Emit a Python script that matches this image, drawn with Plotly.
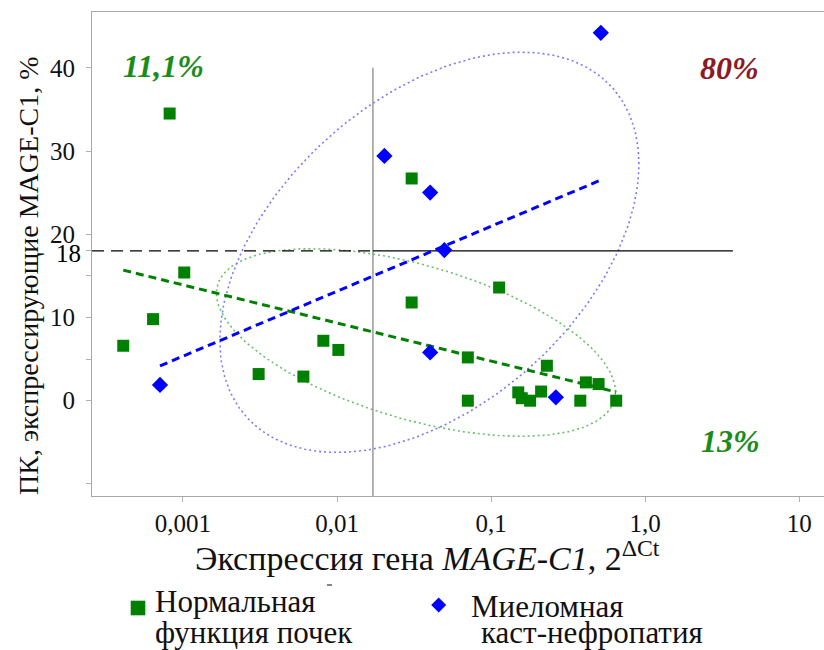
import numpy as np
import plotly.graph_objects as go

# ПК, экспрессирующие MAGE-C1 (%), против экспрессии гена MAGE-C1 (2^ΔCt)
# Нормальная функция почек
normal_expr = [0.00082, 0.00102, 0.00064, 0.00041, 0.0031, 0.00605, 0.00815, 0.0102,
               0.0305, 0.1127, 0.0305, 0.0706, 0.230, 0.412, 0.498, 0.0706,
               0.150, 0.158, 0.179, 0.211, 0.379, 0.648]
normal_pc = [34.5, 15.4, 9.8, 6.6, 3.2, 2.9, 7.2, 6.1,
             26.7, 13.6, 11.8, 5.2, 4.2, 2.2, 2.0, 0.0,
             1.0, 0.3, 0.0, 1.1, 0.0, 0.0]

# Миеломная каст-нефропатия
myeloma_expr = [0.00071, 0.515, 0.0203, 0.0402, 0.0497, 0.0402, 0.263]
myeloma_pc = [1.9, 44.2, 29.4, 25.0, 18.1, 5.8, 0.4]

# пороговые значения
expr_cutoff = 0.0171
pc_cutoff = 18
vline_top = 40
hline_end = 3.7

x_ticks = [0.001, 0.01, 0.1, 1, 10]
x_ticktext = ["0,001", "0,01", "0,1", "1,0", "10"]
y_ticks = [-10, 0, 5, 10, 15, 18, 20, 30, 40]
y_ticktext = ["", "0", "", "10", "", "", "20", "30", "40"]

share_labels = ["11,1%", "80%", "13%"]
legend_normal = ["Нормальная", "функция почек"]
legend_myeloma = ["Миеломная", "каст-нефропатия"]

X_RANGE = [-3.59, 1.16]     # log10
Y_RANGE = [-11.45, 46.7]

GREEN = "#008000"
BLUE = "#0000ff"
INK = "#111111"
SERIF = "Liberation Serif, Times New Roman, serif"

# plot area in pixels
W, H = 824, 650
ML, MR, MT, MB = 92, 0, 12, 154
PW, PH = W - ML - MR, H - MT - MB


def px_to_paper(px, py):
    return (px - ML) / PW, (H - MB - py) / PH


def trend(expr, pc):
    lx = np.log10(expr)
    b, a = np.polyfit(lx, pc, 1)
    xs = np.array([lx.min(), lx.max()])
    return 10 ** xs, a + b * xs


def prediction_ellipse(expr, pc, p=0.5, npts=240):
    pts = np.column_stack([np.log10(expr), np.asarray(pc, float)])
    n = len(pts)
    c = pts.mean(axis=0)
    S = np.cov(pts, rowvar=False)
    m = n - 2
    fq = (m / 2) * ((1 - p) ** (-2 / m) - 1)          # F(2, n-2) quantile
    k = 2 * (n + 1) * (n - 1) / (n * (n - 2)) * fq
    L = np.linalg.cholesky(S)
    t = np.linspace(0, 2 * np.pi, npts)
    e = c[:, None] + np.sqrt(k) * L @ np.vstack([np.cos(t), np.sin(t)])
    return 10 ** e[0], e[1]


fig = go.Figure()

# эллипсы
ex, ey = prediction_ellipse(normal_expr, normal_pc)
fig.add_trace(go.Scatter(x=ex, y=ey, mode="lines", hoverinfo="skip",
                         line=dict(color="#6cbf6c", width=1.6, dash="2px,3px")))
ex, ey = prediction_ellipse(myeloma_expr, myeloma_pc)
fig.add_trace(go.Scatter(x=ex, y=ey, mode="lines", hoverinfo="skip",
                         line=dict(color="#7b7bf5", width=1.6, dash="2px,3px")))

# пороговые линии
x_left = 10 ** X_RANGE[0]
fig.add_trace(go.Scatter(x=[expr_cutoff, expr_cutoff], y=[Y_RANGE[0], vline_top], mode="lines",
                         hoverinfo="skip", line=dict(color="#808080", width=1.2)))
fig.add_trace(go.Scatter(x=[x_left, expr_cutoff], y=[pc_cutoff, pc_cutoff], mode="lines",
                         hoverinfo="skip", line=dict(color="#000000", width=1.4, dash="12px,7px")))
fig.add_trace(go.Scatter(x=[expr_cutoff, hline_end], y=[pc_cutoff, pc_cutoff], mode="lines",
                         hoverinfo="skip", line=dict(color="#000000", width=1.4)))

# линии тренда
tx, ty = trend(normal_expr, normal_pc)
fig.add_trace(go.Scatter(x=tx, y=ty, mode="lines", hoverinfo="skip",
                         line=dict(color=GREEN, width=3, dash="8px,5px")))
tx, ty = trend(myeloma_expr, myeloma_pc)
fig.add_trace(go.Scatter(x=tx, y=ty, mode="lines", hoverinfo="skip",
                         line=dict(color=BLUE, width=3, dash="8px,5px")))

# точки
fig.add_trace(go.Scatter(x=normal_expr, y=normal_pc, mode="markers",
                         name=" ".join(legend_normal),
                         marker=dict(symbol="square", size=12, color=GREEN)))
fig.add_trace(go.Scatter(x=myeloma_expr, y=myeloma_pc, mode="markers",
                         name=" ".join(legend_myeloma),
                         marker=dict(symbol="diamond", size=12.5, color=BLUE)))

annotations = []


def add_text(text, px, py, size, color=INK, xanchor="center", angle=0, yshift=0):
    ax_, ay_ = px_to_paper(px, py)
    annotations.append(dict(x=ax_, y=ay_, xref="paper", yref="paper", showarrow=False,
                            text=text, textangle=angle, xanchor=xanchor, yanchor="middle",
                            yshift=yshift, font=dict(family=SERIF, size=size, color=color)))


# подписи осей
add_text("ПК, экспрессирующие MAGE-C1, %", 28, 276, 28, angle=-90)
add_text("Экспрессия гена <i>MAGE-C1</i>, 2<sup>ΔCt</sup>", 427, 556, 34)

# подпись порога по оси Y
annotations.append(dict(x=0, y=pc_cutoff, xref="paper", yref="y", showarrow=False,
                        text=str(pc_cutoff), xanchor="right", yanchor="middle",
                        xshift=-9, yshift=-3,
                        font=dict(family=SERIF, size=25, color="#000000")))

# доли в квадрантах
for label, (px, py), col in zip(share_labels,
                                [(163, 66), (729, 68), (730, 441)],
                                ["#1a8c1a", "#8b1a22", "#1a8c1a"]):
    add_text(f"<b><i>{label}</i></b>", px, py, 32, color=col)

# легенда
add_text(legend_normal[0], 153, 601, 31, xanchor="left")
add_text(legend_normal[1], 153, 632, 31, xanchor="left")
add_text(legend_myeloma[0], 469, 606, 31, xanchor="left")
add_text(legend_myeloma[1], 479, 632, 31, xanchor="left")

shapes = []
x0, y0 = px_to_paper(130.7, 615.3)
x1, y1 = px_to_paper(145.3, 600.7)
shapes.append(dict(type="rect", xref="paper", yref="paper", x0=x0, y0=y0, x1=x1, y1=y1,
                   fillcolor=GREEN, line=dict(width=0)))
cx, cy, r = 438.7, 605, 7.5
pts = [px_to_paper(cx, cy - r), px_to_paper(cx + r, cy), px_to_paper(cx, cy + r), px_to_paper(cx - r, cy)]
path = "M " + " L ".join(f"{a:.5f},{b:.5f}" for a, b in pts) + " Z"
shapes.append(dict(type="path", xref="paper", yref="paper", path=path,
                   fillcolor=BLUE, line=dict(width=0)))
# мелкий штрих над подписью легенды
sx0, sy = px_to_paper(327, 585)
sx1, _ = px_to_paper(332, 585)
shapes.append(dict(type="line", xref="paper", yref="paper", x0=sx0, y0=sy, x1=sx1, y1=sy,
                   line=dict(color="#333333", width=1.2)))

fig.update_layout(
    width=W, height=H,
    margin=dict(l=ML, r=MR, t=MT, b=MB, autoexpand=False),
    paper_bgcolor="white", plot_bgcolor="white",
    showlegend=False,
    annotations=annotations,
    shapes=shapes,
    xaxis=dict(type="log", range=X_RANGE, tickvals=x_ticks, ticktext=x_ticktext,
               showgrid=False, zeroline=False, showline=True, mirror=True, automargin=False,
               linecolor="#a8a8a8", linewidth=1.2, ticks="outside", ticklen=5,
               tickcolor="#b0b0b0", tickfont=dict(family=SERIF, size=25, color=INK)),
    yaxis=dict(range=Y_RANGE, tickvals=y_ticks, ticktext=y_ticktext, automargin=False,
               showgrid=False, zeroline=False, showline=True, mirror=False,
               linecolor="#a8a8a8", linewidth=1.2, ticks="outside", ticklen=5,
               tickcolor="#b0b0b0", ticklabelstandoff=6,
               tickfont=dict(family=SERIF, size=25, color=INK)),
)

fig.write_html("out.html")
